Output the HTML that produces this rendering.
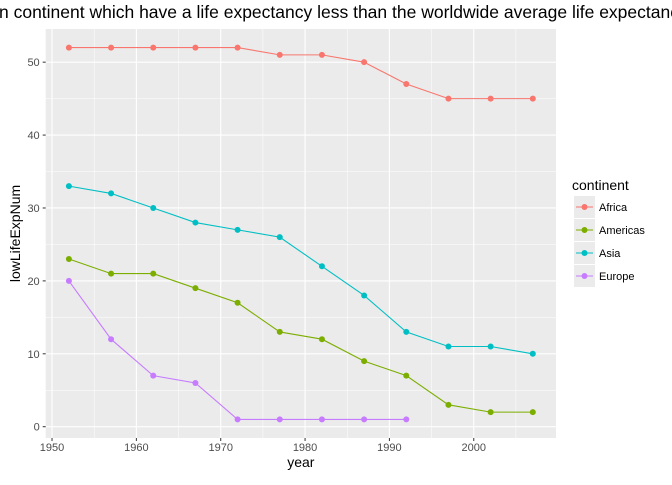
<!DOCTYPE html>
<html><head><meta charset="utf-8"><style>
body{margin:0;background:#fff;width:672px;height:480px;overflow:hidden;font-family:"Liberation Sans",sans-serif}
</style></head><body>
<svg width="672" height="480" xmlns="http://www.w3.org/2000/svg">
<g id="plot"></g>
</svg>
<script>
const years=[1952,1957,1962,1967,1972,1977,1982,1987,1992,1997,2002,2007];
const continents=["Africa","Americas","Asia","Europe"];
const africa=[52,52,52,52,52,51,51,50,47,45,45,45];
const americas=[23,21,21,19,17,13,12,9,7,3,2,2];
const asia=[33,32,30,28,27,26,22,18,13,11,11,10];
const europe=[20,12,7,6,1,1,1,1,1];
const xTicks=[1950,1960,1970,1980,1990,2000];
const yTicks=[0,10,20,30,40,50];
const colors=["#F8766D","#7CAE00","#00BFC4","#C77CFF"];
const series=[africa,americas,asia,europe];
const NS="http://www.w3.org/2000/svg";
const g=document.getElementById('plot');
const L=45.7,R=556,T=29,B=438;
const xMin=1949.25,xMax=2009.75,yMin=-1.55,yMax=54.55;
const X=v=>L+(v-xMin)/(xMax-xMin)*(R-L);
const Y=v=>B-(v-yMin)/(yMax-yMin)*(B-T);
function el(t,a,txt){const e=document.createElementNS(NS,t);for(const k in a)e.setAttribute(k,a[k]);if(txt!=null)e.textContent=txt;g.appendChild(e);return e;}
let e=el('rect',{x:L,y:T,width:R-L,height:B-T,fill:'#EBEBEB'});


for(let i=0;i<xTicks.length;i++){const m=xTicks[i]+5;if(X(m)<R){e=el('line',{x1:X(m),x2:X(m),y1:T,y2:B,stroke:'#fff','stroke-width':0.5});}}
for(let i=0;i<yTicks.length;i++){const m=yTicks[i]+5;if(Y(m)>T){e=el('line',{x1:L,x2:R,y1:Y(m),y2:Y(m),stroke:'#fff','stroke-width':0.5});}}
xTicks.forEach(t=>{
e=el('line',{x1:X(t),x2:X(t),y1:T,y2:B,stroke:'#fff','stroke-width':1.1});


e=el('line',{x1:X(t),x2:X(t),y1:B,y2:B+3,stroke:'#333','stroke-width':1});


e=el('text',{x:X(t),y:B+13,'text-anchor':'middle','font-size':11,fill:'#4D4D4D'},t);


});
yTicks.forEach(t=>{
e=el('line',{x1:L,x2:R,y1:Y(t),y2:Y(t),stroke:'#fff','stroke-width':1.1});


e=el('line',{x1:L-3,x2:L,y1:Y(t),y2:Y(t),stroke:'#333','stroke-width':1});


e=el('text',{x:L-6,y:Y(t)+4,'text-anchor':'end','font-size':11,fill:'#4D4D4D'},t);


});
series.forEach((s,i)=>{
const pts=s.map((v,j)=>X(years[j])+','+Y(v)).join(' ');
e=el('polyline',{points:pts,fill:'none',stroke:colors[i],'stroke-width':1.1});


s.forEach((v,j)=>{
e=el('circle',{cx:X(years[j]),cy:Y(v),r:3,fill:colors[i]});


});
});
e=el('text',{x:(L+R)/2,y:B+29,'text-anchor':'middle','font-size':14,fill:'#000'},'year');


e=el('text',{x:0,y:0,'text-anchor':'middle','font-size':14,fill:'#000',transform:`translate(20,${(T+B)/2}) rotate(-90)`},'lowLifeExpNum');


const prefix='Number of countries i';
const meas=el('text',{x:0,y:-50,'font-size':17.5},prefix);
const pw=meas.getComputedTextLength();
meas.remove();
e=el('text',{x:-pw-1,y:18,'font-size':17.5,fill:'#000'},prefix+'n continent which have a life expectancy less than the worldwide average life expectancy');


e=el('text',{x:572,y:190,'font-size':14,fill:'#000'},'continent');


continents.forEach((c,i)=>{
const y0=196+i*23;
e=el('rect',{x:574,y:y0,width:21,height:22,fill:'#EBEBEB'});


e=el('line',{x1:576,x2:593,y1:y0+11,y2:y0+11,stroke:colors[i],'stroke-width':1.1});


e=el('circle',{cx:584.5,cy:y0+11,r:3,fill:colors[i]});


e=el('text',{x:599,y:y0+15,'font-size':11,fill:'#000'},c);


});
</script>
</body></html>
